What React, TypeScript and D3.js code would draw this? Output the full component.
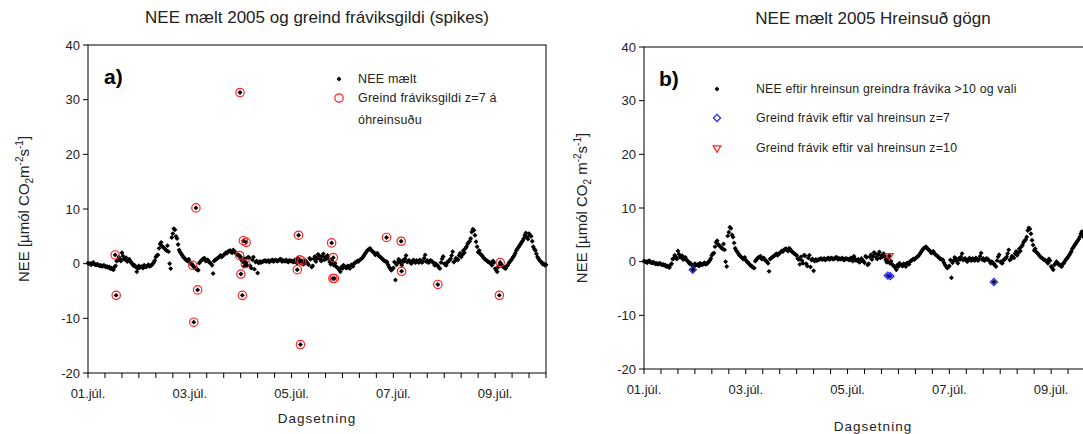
import * as d3 from 'd3'

// NEE measured, on the hour from 01.júl 00:00 to 10.júl 00:00 (µmól CO2 m-2 s-1)
const hourlyNEE = [
  // 01.júl
  0.1, 0.0, 0.1, -0.1, -0.2, -0.3, -0.3, -0.4, -0.5, -0.5, -0.6, -0.8, -1.1, -0.4, 0.6, 0.9, 2.0, 0.8, 1.1, 0.6, 0.3, -0.1, -0.3, -1.5,
  // 02.júl
  -0.4, -0.6, -0.8, -0.5, -0.4, -0.5, -0.3, 0.2, 1.2, 1.6, 3.6, 3.2, 2.8, 2.4, 2.2, -0.9, 5.5, 6.2, 4.6, 2.5, 1.8, 1.2, 0.8, 0.5,
  // 03.júl
  0.3, -0.1, -0.6, -0.9, -1.2, 0.4, 0.8, 1.0, 0.6, 0.3, 0.0, -1.8, 0.7, 1.0, 1.3, 1.2, 1.6, 2.0, 2.2, 2.4, 2.0, 2.3, 1.8, 1.5,
  // 04.júl
  1.2, 0.4, 0.9, -0.3, 1.1, -0.8, 1.2, 0.3, -1.7, 0.4, 0.3, 0.5, 0.4, 0.6, 0.5, 0.7, 0.6, 0.5, 0.6, 0.8, 0.6, 0.5, 0.4, 0.6,
  // 05.júl
  0.5, 0.3, 0.6, 1.0, 0.2, 0.4, 0.0, 0.3, -0.2, 0.8, -0.4, 1.3, 1.0, 1.5, 0.5, 1.8, 1.2, 1.5, 0.3, 0.6, -0.3, -0.5, -0.9, -1.5,
  // 06.júl
  -0.9, -0.5, -0.8, -0.6, -0.3, -0.5, 0.2, 0.5, 0.6, 0.9, 1.4, 2.0, 2.5, 2.8, 2.3, 2.0, 1.8, 1.5, 1.2, 0.8, 0.5, 0.3, -0.6, -1.2,
  // 07.júl
  -0.8, -3.0, 0.2, 0.6, -0.3, 0.4, 1.5, 0.5, 0.2, 0.4, 0.3, 0.6, 0.2, 0.5, 0.4, 1.6, 0.6, 0.3, 0.5, 0.1, 0.0, -0.4, -0.9, 0.9,
  // 08.júl
  0.0, -0.3, 0.4, 0.9, 2.2, 0.5, 0.8, 1.5, 1.2, 2.4, 2.8, 3.6, 4.1, 5.8, 6.1, 4.0, 2.1, 1.8, 1.4, 0.9, 0.6, 0.3, 0.0, 0.5,
  // 09.júl
  -0.9, -1.5, -0.4, -0.2, -0.6, -0.9, -0.3, 0.4, 0.9, 1.5, 2.4, 3.0, 3.6, 4.2, 5.2, 4.9, 5.5, 5.0, 3.1, 2.4, 1.2, 0.6, 0.2, 0.0,
  // 10.júl 00:00
  -0.2,
]

// NEE measured at half past each hour
const halfHourNEE = [
  0.0, -0.2, 0.2, -0.2, -0.1, -0.4, -0.5, -0.3, -0.6, -0.7, -0.9, -1.0, -0.6, 0.5, 1.2, 0.5, 1.4, 0.9, 0.4, 0.8, 0.2, -0.4, -0.6, -0.9,
  -0.7, -0.5, -0.3, -0.6, -0.2, -0.4, 0.0, 0.6, 1.5, 2.8, 3.9, 3.0, 2.6, 3.3, 0.0, 4.8, 6.4, 5.0, 3.5, 2.1, 1.5, 1.0, 0.6, 0.8,
  0.0, -0.4, -0.8, -1.1, 0.1, 0.6, 0.9, 0.5, 0.7, 0.2, -0.3, 0.5, 0.8, 1.1, 1.5, 1.4, 1.8, 1.9, 2.3, 2.1, 2.5, 2.0, 1.6, 1.3,
  0.6, -0.5, 0.2, 1.2, -0.4, 0.7, -1.0, 0.5, 0.1, 0.2, 0.4, 0.6, 0.5, 0.3, 0.6, 0.4, 0.7, 0.5, 0.8, 0.4, 0.5, 0.7, 0.3, 0.5,
  0.4, 0.7, 0.1, 0.5, 0.3, -0.1, 0.6, 0.1, 1.0, -0.6, 0.9, 0.4, 1.7, 0.8, 1.3, 0.7, 0.9, 1.0, -0.1, 0.2, 0.1, -0.7, -1.1, -0.6,
  -0.3, -0.7, -0.4, -0.9, -0.2, 0.0, 0.3, 0.4, 0.8, 1.1, 1.7, 2.3, 2.6, 2.5, 2.1, 1.6, 1.9, 1.3, 1.0, 0.6, 0.4, -0.2, -0.9, -1.0,
  0.3, -0.2, 0.8, 0.1, 0.6, 0.9, 0.3, 0.6, 0.0, 0.7, 0.2, 0.4, 0.7, 0.2, 1.0, 0.4, 0.2, 0.6, 0.3, -0.3, -0.2, -0.7, 0.2, 1.3,
  -0.2, 0.3, 0.6, 1.5, 0.3, 1.0, 0.7, 1.9, 1.6, 2.0, 3.1, 3.9, 4.6, 6.3, 5.2, 3.1, 2.4, 1.6, 1.1, 0.7, 0.4, 0.2, -0.3, 0.2,
  -1.2, -0.6, 0.0, -0.5, -0.8, -0.4, 0.1, 0.6, 1.2, 1.9, 2.7, 3.3, 3.9, 4.6, 5.6, 4.5, 5.2, 4.1, 2.7, 1.8, 0.9, 0.4, -0.1, -0.3,
]

// spikes detected with z=7 in the raw data (hours from 01.júl 00:00)
const spikeHours = [12.8, 13.3, 49.4, 49.9, 50.9, 51.7, 71.5, 71.7, 72.1, 72.8, 73.3, 74.2, 74.6, 98.7, 99.3, 99.8, 100.2, 100.8, 114.9, 115.5, 115.7, 116.2, 140.8, 147.7, 147.9, 165.0, 194.0, 194.4]
const spikeNEE = [1.6, -5.8, -0.3, -10.7, 10.2, -4.8, 1.5, 31.3, -1.9, -5.8, 4.2, 0.0, 3.9, -1.1, 5.2, 0.7, -14.8, 0.5, 3.8, -2.7, 1.1, -2.7, 4.8, 4.1, -1.4, -3.8, -5.8, 0.2]

// spikes still found after cleaning
const z7Hours = [23.0, 115.0, 116.2, 165.0]
const z7NEE = [-1.5, -2.6, -2.7, -3.8]
const z10Hours = [115.7]
const z10NEE = [1.1]

const dayLabels = ['01.júl.', '03.júl.', '05.júl.', '07.júl.', '09.júl.']
const yTicks = [-20, -10, 0, 10, 20, 30, 40]

const font = 'Arial, "Liberation Sans", sans-serif'
const ink = '#222'

type Pt = { h: number; v: number }

const basePts: Pt[] = hourlyNEE
  .map((v, i) => ({ h: i, v }))
  .concat(halfHourNEE.map((v, i) => ({ h: i + 0.5, v })))
const spikePts: Pt[] = spikeHours.map((h, i) => ({ h, v: spikeNEE[i] }))
const z7Pts: Pt[] = z7Hours.map((h, i) => ({ h, v: z7NEE[i] }))
const z10Pts: Pt[] = z10Hours.map((h, i) => ({ h, v: z10NEE[i] }))

const dot = d3.symbol(d3.symbolSquare, 12)()
const ring = d3.symbol(d3.symbolCircle, 55)()
const diamond = d3.symbol(d3.symbolSquare, 26)()
const triangle = d3.symbol(d3.symbolTriangle2, 42)()

function Dot({ x, y }) {
  return <path d={dot} transform={`translate(${x},${y}) rotate(45)`} fill="#000" />
}

function YLabel({ x, y, space }) {
  return (
    <text transform={`translate(${x},${y}) rotate(-90)`} textAnchor="middle" fontSize={15} fill={ink} fontFamily={font}>
      NEE [µmól CO<tspan dy={4} fontSize={10}>2</tspan>
      <tspan dy={-4}>{space ? ' m' : 'm'}</tspan>
      <tspan dy={-6} fontSize={10}>-2</tspan>
      <tspan dy={6}>s</tspan>
      <tspan dy={-6} fontSize={10}>-1</tspan>
      <tspan dy={6}>]</tspan>
    </text>
  )
}

function Panel({ box, title, titleY, xTitleY, yLabelX, space, children }) {
  const { x0, x1, y0, y1 } = box
  const x = d3.scaleLinear().domain([0, 216]).range([x0, x1])
  const y = d3.scaleLinear().domain([-20, 40]).range([y1, y0])
  const minor = d3.range(0, 217, 8)
  return (
    <g fontFamily={font}>
      <text x={(x0 + x1) / 2} y={titleY} textAnchor="middle" fontSize={17} fill={ink}>{title}</text>
      <rect x={x0} y={y0} width={x1 - x0} height={y1 - y0} fill="none" stroke="#000" strokeWidth={1} />
      {yTicks.map(t => (
        <g key={t}>
          <line x1={x0 - 5} x2={x0} y1={y(t)} y2={y(t)} stroke="#000" />
          <text x={x0 - 8} y={y(t)} dy="0.35em" textAnchor="end" fontSize={13} fill={ink}>{t}</text>
        </g>
      ))}
      {minor.map(h => (
        <line key={h} x1={x(h)} x2={x(h)} y1={y1} y2={y1 + 5} stroke="#000" />
      ))}
      {dayLabels.map((l, i) => (
        <text key={l} x={x(i * 48)} y={y1 + 25} textAnchor="middle" fontSize={13} fill={ink}>{l}</text>
      ))}
      <text x={(x0 + x1) / 2} y={xTitleY} textAnchor="middle" fontSize={13.5} letterSpacing={1} fill={ink}>Dagsetning</text>
      <YLabel x={yLabelX} y={(y0 + y1) / 2} space={space} />
      {children(x, y)}
    </g>
  )
}

export default function App() {
  const left = { x0: 88, x1: 546, y0: 45, y1: 373 }
  const right = { x0: 644, x1: 1102, y0: 47, y1: 369 }
  const rawPts = basePts.concat(spikePts)
  const cleanPts = basePts.concat(z7Pts, z10Pts)

  return (
    <svg width={1083} height={434} style={{ position: 'absolute', left: 0, top: 0, background: '#fff' }}>
      <Panel box={left} title="NEE mælt 2005 og greind fráviksgildi (spikes)" titleY={23} xTitleY={423} yLabelX={29} space={false}>
        {(x, y) => (
          <g>
            {rawPts.map((p, i) => <Dot key={i} x={x(p.h)} y={y(p.v)} />)}
            {spikePts.map((p, i) => (
              <path key={'s' + i} d={ring} transform={`translate(${x(p.h)},${y(p.v)})`} fill="none" stroke="#f22" strokeWidth={1.2} />
            ))}
            <text x={104} y={84} fontSize={21} fontWeight="bold" fill="#000">a)</text>
            <Dot x={339} y={79} />
            <text x={358} y={79} dy="0.35em" fontSize={12.5} letterSpacing={0.2} fill={ink}>NEE  mælt</text>
            <path d={ring} transform="translate(339,98)" fill="none" stroke="#f22" strokeWidth={1.2} />
            <text x={358} y={98} dy="0.35em" fontSize={12.5} letterSpacing={0.2} fill={ink}>Greind fráviksgildi z=7  á</text>
            <text x={358} y={120} dy="0.35em" fontSize={12.5} letterSpacing={0.2} fill={ink}>óhreinsuðu</text>
          </g>
        )}
      </Panel>
      <Panel box={right} title="NEE mælt 2005 Hreinsuð gögn" titleY={24} xTitleY={431} yLabelX={587} space={true}>
        {(x, y) => (
          <g>
            {cleanPts.map((p, i) => <Dot key={i} x={x(p.h)} y={y(p.v)} />)}
            {z7Pts.map((p, i) => (
              <path key={'b' + i} d={diamond} transform={`translate(${x(p.h)},${y(p.v)}) rotate(45)`} fill="none" stroke="#22f" strokeWidth={1.2} />
            ))}
            {z10Pts.map((p, i) => (
              <path key={'r' + i} d={triangle} transform={`translate(${x(p.h)},${y(p.v)}) rotate(180)`} fill="none" stroke="#f22" strokeWidth={1.2} />
            ))}
            <text x={659} y={86} fontSize={21} fontWeight="bold" fill="#000">b)</text>
            <Dot x={717} y={89} />
            <text x={756} y={89} dy="0.35em" fontSize={12.3} letterSpacing={0.2} fill={ink}>NEE eftir hreinsun greindra frávika &gt;10 og vali</text>
            <path d={diamond} transform="translate(717,118) rotate(45)" fill="none" stroke="#22f" strokeWidth={1.2} />
            <text x={756} y={118} dy="0.35em" fontSize={12.3} letterSpacing={0.2} fill={ink}>Greind frávik eftir val hreinsun z=7</text>
            <path d={triangle} transform="translate(717,148) rotate(180)" fill="none" stroke="#f22" strokeWidth={1.2} />
            <text x={756} y={148} dy="0.35em" fontSize={12.3} letterSpacing={0.2} fill={ink}>Greind frávik eftir val hreinsun z=10</text>
          </g>
        )}
      </Panel>
    </svg>
  )
}
